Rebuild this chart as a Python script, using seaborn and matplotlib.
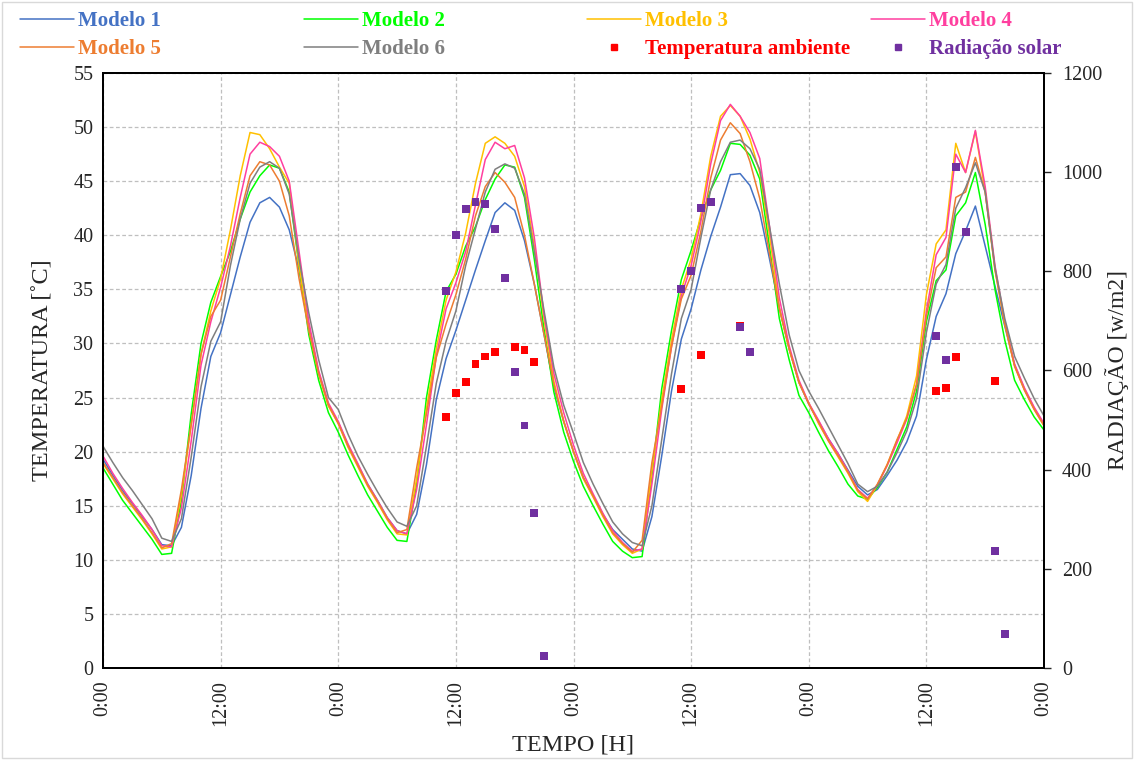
import pandas as pd
import seaborn as sns
import matplotlib.pyplot as plt
from matplotlib.lines import Line2D
from matplotlib.patches import Rectangle

sns.set_style("white")
plt.rcParams['font.family'] = ['Liberation Serif', 'DejaVu Serif']

# hourly readings, 4 days (0h .. 96h)
hours = list(range(97))

modelo_1 = [19.3, 17.8, 16.4, 15.2, 14.0, 12.8, 11.4, 11.3, 13.0, 17.8,
            24.0, 28.8, 31.0, 34.5, 38.0, 41.2, 43.0, 43.5, 42.6, 40.5,
            36.8, 31.5, 27.3, 24.3, 22.7, 20.6, 18.8, 17.0, 15.5, 13.9,
            12.7, 12.4, 14.2, 18.8, 24.8, 28.6, 31.2, 34.0, 36.8, 39.5,
            42.1, 43.0, 42.3, 39.5, 35.5, 30.8, 26.0, 22.8, 20.0, 17.6,
            15.9, 14.2, 12.8, 11.9, 11.0, 10.8, 14.0, 19.6, 25.6, 30.4,
            33.2, 36.8, 39.9, 42.6, 45.6, 45.7, 44.6, 42.1, 37.8, 33.3,
            29.5, 26.4, 24.4, 22.8, 21.2, 19.8, 18.3, 16.8, 16.0, 16.5,
            17.8, 19.2, 20.9, 23.3, 28.5, 32.5, 34.6, 38.3, 40.4, 42.7,
            39.0, 35.3, 31.6, 28.0, 25.8, 24.0, 22.5]
modelo_2 = [18.5, 17.0, 15.5, 14.3, 13.1, 11.9, 10.5, 10.6, 15.5, 23.5,
            30.0, 33.8, 36.2, 38.5, 41.5, 44.0, 45.5, 46.5, 46.2, 44.0,
            37.2, 30.8, 26.6, 23.6, 21.8, 19.7, 17.8, 16.0, 14.5, 13.0,
            11.8, 11.7, 17.0, 25.0, 30.3, 34.8, 36.4, 39.0, 40.8, 43.3,
            45.2, 46.5, 46.3, 43.5, 37.8, 31.3, 25.5, 21.8, 19.1, 16.8,
            15.0, 13.3, 11.7, 10.8, 10.2, 10.3, 17.8, 25.8, 31.2, 35.9,
            38.6, 41.6, 44.2, 46.0, 48.5, 48.4, 47.4, 45.2, 38.9, 32.3,
            28.5, 25.2, 23.6, 21.8, 20.1, 18.6, 17.0, 15.9, 15.6, 16.7,
            18.1, 20.2, 22.3, 25.6, 32.0, 35.8, 36.8, 41.8, 43.0, 45.8,
            41.0, 35.0, 30.3, 26.6, 24.8, 23.2, 22.0]
modelo_3 = [18.9, 17.5, 16.1, 14.9, 13.7, 12.4, 11.0, 11.2, 16.0, 22.5,
            29.0, 33.0, 36.0, 40.5, 45.5, 49.5, 49.3, 48.0, 46.3, 44.8,
            37.2, 31.3, 27.2, 24.2, 22.6, 20.4, 18.6, 16.8, 15.3, 13.7,
            12.4, 12.3, 17.5, 24.0, 29.5, 34.0, 36.6, 40.2, 44.8, 48.5,
            49.1, 48.5, 47.3, 44.5, 39.0, 32.2, 26.5, 22.8, 20.0, 17.5,
            15.8, 14.0, 12.4, 11.4, 10.6, 11.0, 18.2, 24.8, 30.3, 35.0,
            37.8, 42.0, 47.3, 51.0, 52.0, 51.0, 48.9, 45.8, 40.0, 33.3,
            29.5, 26.4, 24.5, 22.6, 21.0, 19.5, 18.0, 16.3, 15.4, 16.9,
            18.8, 21.0, 23.3, 27.0, 34.5, 39.2, 40.5, 48.5, 45.8, 49.6,
            44.0, 36.8, 31.8, 27.9, 25.7, 23.9, 22.4]
modelo_4 = [19.6, 18.0, 16.6, 15.3, 14.1, 12.8, 11.3, 11.2, 14.8, 21.0,
            28.0, 32.0, 35.2, 39.0, 43.5, 47.5, 48.6, 48.2, 47.3, 45.0,
            38.5, 32.0, 27.5, 24.5, 22.8, 20.7, 18.9, 17.0, 15.5, 13.9,
            12.7, 12.4, 16.5, 22.5, 28.8, 33.2, 35.6, 38.5, 42.8, 47.0,
            48.6, 48.0, 48.3, 45.3, 39.8, 32.6, 27.2, 23.6, 20.6, 18.0,
            16.1, 14.3, 12.7, 11.6, 10.8, 11.0, 17.0, 23.9, 29.7, 34.4,
            37.2, 41.3, 46.6, 50.6, 52.1, 51.0, 49.5, 47.1, 40.8, 34.2,
            29.8, 26.6, 24.5, 22.9, 21.2, 19.8, 18.2, 16.5, 15.7, 16.9,
            18.7, 20.8, 23.0, 26.2, 33.0, 38.2, 39.8, 47.5, 45.8, 49.7,
            44.5, 37.2, 32.0, 28.1, 25.9, 24.1, 22.6]
modelo_5 = [19.0, 17.6, 16.2, 15.0, 13.8, 12.5, 11.1, 11.5, 16.5, 22.5,
            29.0, 32.5, 34.0, 38.0, 42.0, 45.5, 46.8, 46.5, 45.0, 41.8,
            36.0, 31.2, 27.2, 24.3, 22.6, 20.5, 18.7, 16.9, 15.4, 13.8,
            12.5, 12.8, 18.5, 23.5, 28.7, 31.8, 34.5, 37.8, 41.8, 44.5,
            45.8, 44.9, 43.5, 40.0, 35.5, 30.8, 26.2, 22.8, 20.0, 17.6,
            15.9, 14.1, 12.5, 11.5, 10.7, 11.8, 19.0, 24.2, 29.7, 34.1,
            36.3, 40.4, 45.3, 48.8, 50.4, 49.4, 46.8, 43.4, 38.3, 33.2,
            29.5, 26.4, 24.4, 22.7, 21.0, 19.6, 18.1, 16.4, 15.6, 17.0,
            18.8, 21.1, 23.1, 26.2, 32.5, 37.0, 38.0, 43.5, 44.0, 47.2,
            44.0, 36.8, 31.8, 27.9, 25.7, 23.9, 22.4]
modelo_6 = [20.5, 19.0, 17.6, 16.4, 15.1, 13.8, 12.0, 11.7, 13.8, 19.5,
            26.0, 30.2, 32.0, 37.2, 41.5, 44.8, 46.3, 46.8, 46.2, 43.8,
            37.8, 32.8, 28.5, 25.0, 23.9, 21.6, 19.6, 17.9, 16.3, 14.8,
            13.5, 13.1, 15.0, 20.5, 26.3, 30.2, 33.0, 37.2, 40.6, 44.0,
            46.1, 46.6, 46.2, 43.8, 38.5, 33.0, 27.8, 24.3, 21.7, 19.0,
            17.0, 15.2, 13.5, 12.4, 11.6, 11.3, 15.0, 21.1, 27.2, 32.3,
            35.0, 39.8, 44.2, 46.8, 48.6, 48.8, 48.0, 46.1, 40.8, 35.5,
            30.8, 27.5, 25.6, 24.0, 22.3, 20.6, 18.9, 17.0, 16.3, 16.8,
            18.1, 19.9, 21.9, 24.9, 31.0, 35.5, 37.3, 42.5, 44.4, 46.7,
            44.0, 37.0, 32.3, 28.8, 26.8, 24.9, 23.3]

amb_hours = [35, 36, 37, 38, 39, 40, 42, 43, 44, 59, 61, 65, 85, 86, 87, 91]
amb_temp = [23.2, 25.4, 26.4, 28.1, 28.8, 29.2, 29.7, 29.4, 28.3,
            25.8, 28.9, 31.6, 25.6, 25.9, 28.75, 26.5]

rad_hours = [35, 36, 37, 38, 39, 40, 41, 42, 43, 44, 45,
             59, 60, 61, 62, 65, 66, 85, 86, 87, 88, 91, 92]
rad_values = [760, 873, 925, 939, 935, 885, 787, 597, 489, 313, 24,
              765, 801, 928, 939, 687, 637, 670, 622, 1011, 879, 236, 69]

model_names = ["Modelo 1", "Modelo 2", "Modelo 3", "Modelo 4", "Modelo 5", "Modelo 6"]
model_colors = {"Modelo 1": "#4472C4", "Modelo 2": "#00FF00", "Modelo 3": "#FFC000",
                "Modelo 4": "#FF3F9F", "Modelo 5": "#ED7D31", "Modelo 6": "#7F7F7F"}
amb_color = "#FF0000"
rad_color = "#7030A0"

series = [modelo_1, modelo_2, modelo_3, modelo_4, modelo_5, modelo_6]
df = pd.concat([pd.DataFrame({"hora": hours, "temp": vals, "modelo": name})
                for name, vals in zip(model_names, series)], ignore_index=True)

fig = plt.figure(figsize=(11.34, 7.6), dpi=100)
ax = fig.add_axes([103 / 1134, 92 / 760, 941 / 1134, 595 / 760])

sns.lineplot(data=df, x="hora", y="temp", hue="modelo", hue_order=model_names,
             palette=model_colors, linewidth=1.1, legend=False, errorbar=None, ax=ax)
sns.scatterplot(x=amb_hours, y=amb_temp, marker="s", color=amb_color, s=32,
                edgecolor="none", ax=ax, zorder=5)

ax2 = ax.twinx()
sns.scatterplot(x=rad_hours, y=rad_values, marker="s", color=rad_color, s=32,
                edgecolor="none", ax=ax2, zorder=6)

ax.set_xlim(0, 96)
ax.set_ylim(0, 55)
ax2.set_ylim(0, 1200)
ax.set_xticks(list(range(0, 97, 12)))
ax.set_xticklabels(["0:00" if h % 24 == 0 else "12:00" for h in range(0, 97, 12)],
                   rotation=90)
ax.set_yticks(list(range(0, 56, 5)))
ax2.set_yticks(list(range(0, 1201, 200)))

ax.grid(True, linestyle=(0, (3, 2)), color="#BFBFBF", linewidth=0.9)
ax.set_axisbelow(True)
for a in (ax, ax2):
    for sp in a.spines.values():
        sp.set_color("black")
        sp.set_linewidth(1.4)

ax.tick_params(axis="y", length=0, labelsize=14.5, pad=7)
ax.tick_params(axis="x", length=0, labelsize=14.5, pad=9)
ax2.tick_params(axis="y", length=5, width=1, direction="out", labelsize=14.5, pad=8)

ax.set_xlabel("TEMPO [H]", fontsize=17.5, labelpad=6)
ax.set_ylabel("TEMPERATURA [˚C]", fontsize=17.5, labelpad=14)
ax2.set_ylabel("RADIAÇÃO [w/m2]", fontsize=17, labelpad=2)

# legend laid out like the original grid: 4 columns, 2 rows
line_h = {n: Line2D([], [], color=model_colors[n], lw=1.1) for n in model_names}
amb_h = Line2D([], [], marker="s", ls="none", color=amb_color, ms=5)
rad_h = Line2D([], [], marker="s", ls="none", color=rad_color, ms=5)
columns = [
    (20, [(line_h["Modelo 1"], "Modelo 1", model_colors["Modelo 1"]),
          (line_h["Modelo 5"], "Modelo 5", model_colors["Modelo 5"])]),
    (304, [(line_h["Modelo 2"], "Modelo 2", model_colors["Modelo 2"]),
           (line_h["Modelo 6"], "Modelo 6", model_colors["Modelo 6"])]),
    (587, [(line_h["Modelo 3"], "Modelo 3", model_colors["Modelo 3"]),
           (amb_h, "Temperatura ambiente", amb_color)]),
    (871, [(line_h["Modelo 4"], "Modelo 4", model_colors["Modelo 4"]),
           (rad_h, "Radiação solar", rad_color)]),
]
for x0, entries in columns:
    leg = fig.legend([e[0] for e in entries], [e[1] for e in entries],
                     loc="upper left", bbox_to_anchor=(x0 / 1134, 1 - 11 / 760),
                     frameon=False, borderpad=0, borderaxespad=0,
                     handlelength=2.6, handletextpad=0.2, labelspacing=0.4,
                     prop={"weight": "bold", "size": 15})
    for txt, e in zip(leg.get_texts(), entries):
        txt.set_color(e[2])

fig.patches.append(Rectangle((0.0015, 0.002), 0.997, 0.996, transform=fig.transFigure,
                             fill=False, edgecolor="#D9D9D9", linewidth=1))

fig.savefig("out.png", dpi=100)
